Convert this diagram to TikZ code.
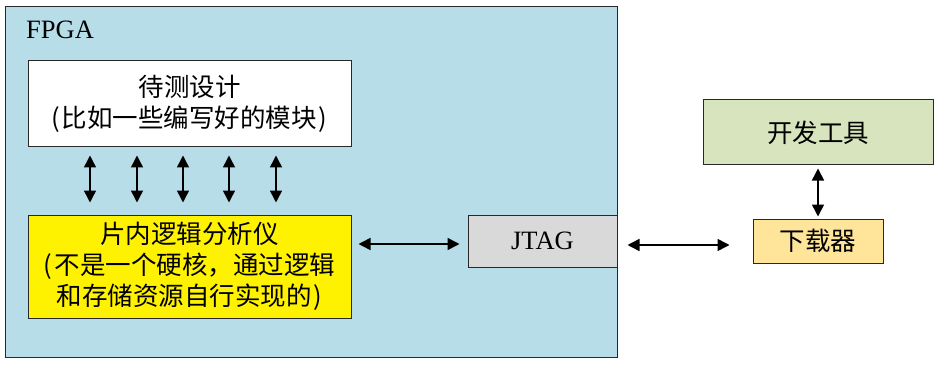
\documentclass[tikz,border=0pt]{standalone}
\usepackage{fontspec}
\setmainfont{Liberation Serif}
\newfontfamily\cjk{Noto Sans CJK SC}
\usetikzlibrary{arrows.meta}
\definecolor{fpgablue}{RGB}{183,221,232}
\definecolor{jtaggray}{RGB}{217,217,217}
\definecolor{toolgreen}{RGB}{215,228,189}
\definecolor{dlorange}{RGB}{255,229,153}
\definecolor{edgecol}{RGB}{40,40,40}
\begin{document}
\begin{tikzpicture}[x=1pt,y=-1pt,
  box/.style={draw=edgecol, line width=1pt, inner sep=0pt, align=center},
  arr/.style={{Triangle[length=12pt,width=12pt]}-{Triangle[length=12pt,width=12pt]}, line width=1.5pt},
  cjktext/.style={font=\cjk\fontsize{25.5}{31}\selectfont},
  lattext/.style={font=\fontsize{26.5}{30}\selectfont}]
\useasboundingbox (0,0) rectangle (941,366);
\node[box, fill=fpgablue, minimum width=612pt, minimum height=350pt] (fpga) at (311,182) {};
\node[lattext, anchor=west, inner sep=0pt] (fpgalabel) at (26,30) {FPGA};
\node[box, fill=white, cjktext, minimum width=323pt, minimum height=86pt] (dut) at (189.5,104) {待测设计\\(\hspace{2pt}比如一些编写好的模块\hspace{2pt})};
\node[box, fill=yellow, cjktext, minimum width=323pt, minimum height=103pt] (la) at (189.5,266.5) {片内逻辑分析仪\\(\hspace{2pt}不是一个硬核，通过逻辑\\和存储资源自行实现的\hspace{2pt})};
\node[box, fill=jtaggray, lattext, minimum width=149pt, minimum height=52pt] (jtag) at (542.5,241) {JTAG};
\node[box, fill=toolgreen, cjktext, minimum width=230pt, minimum height=65pt] (tool) at (818,132.5) {开发工具};
\node[box, fill=dlorange, cjktext, minimum width=130pt, minimum height=44pt] (dl) at (818,241) {下载器};
\foreach \x in {90,137,183,229,276}
  \draw[arr, shorten <=8pt, shorten >=12pt] (dut.south -| \x,0) -- (la.north -| \x,0);
\draw[arr, shorten <=7pt, shorten >=8pt] ([yshift=-3pt]jtag.west -| la.east) -- ([yshift=-3pt]jtag.west);
\draw[arr, shorten <=10pt, shorten >=23pt] ([yshift=-4pt]jtag.east) -- ([yshift=-4pt]jtag.east -| dl.west);
\draw[arr, shorten <=3pt, shorten >=2pt] (tool.south) -- (tool.south |- dl.north);
\end{tikzpicture}
\end{document}
